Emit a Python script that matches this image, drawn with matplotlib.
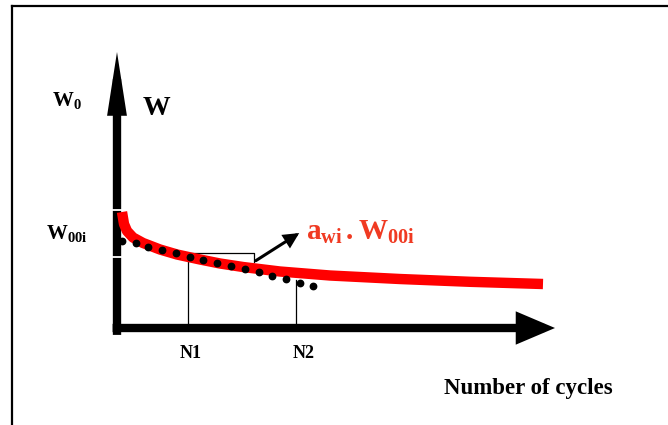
import matplotlib
matplotlib.use('Agg')
import matplotlib.pyplot as plt
from matplotlib.lines import Line2D

plt.rcParams['font.family'] = ['Liberation Serif', 'DejaVu Serif']
plt.rcParams['font.weight'] = 'bold'
plt.rcParams['mathtext.fontset'] = 'custom'
plt.rcParams['mathtext.rm'] = 'Liberation Serif:bold'
plt.rcParams['mathtext.it'] = 'Liberation Serif:bold'
plt.rcParams['mathtext.bf'] = 'Liberation Serif:bold'

# fitted wear curve (arbitrary units)
curve_n = [1.14, 1.60, 2.28, 3.65, 5.94, 9.82, 13.70, 18.95, 23.52, 28.77, 37.21, 48.63, 64.61, 80.59, 97.26]
curve_w = [42.03, 37.68, 35.14, 32.79, 30.80, 28.44, 26.63, 24.82, 23.37, 22.10, 20.47, 19.02, 17.75, 16.74, 15.94]

# measured points
meas_n = [1.1, 4.3, 7.1, 10.3, 13.5, 16.7, 19.6, 22.8, 26.0, 29.2, 32.4, 35.4, 38.6, 41.8, 44.7]
meas_w = [31.5, 30.8, 29.3, 28.3, 27.2, 25.7, 24.6, 23.6, 22.5, 21.4, 20.3, 18.8, 17.8, 16.3, 15.2]

w00i_marks = [42.8, 25.7]
n1, n2 = 16.2, 40.9
n1_top, n2_top = 27.2, 17.4
bracket_right, bracket_low = 31.3, 23.9

fig = plt.figure(figsize=(6.68, 4.25), dpi=100)
ax = fig.add_axes([117 / 668, 97 / 425, 438 / 668, 276 / 425])
ax.set_xlim(0, 100)
ax.set_ylim(0, 100)
ax.axis('off')

# frame of the sketch
fig.add_artist(Line2D([12 / 668, 12 / 668], [0, 419 / 425], color='black', lw=1.6))
fig.add_artist(Line2D([12 / 668, 1], [419 / 425, 419 / 425], color='black', lw=1.6))

# axes with arrows
ax.annotate('', xy=(1.0, 0), xytext=(-0.01, 0), xycoords='axes fraction',
            arrowprops=dict(arrowstyle='-|>,head_length=0.4,head_width=0.17', mutation_scale=44,
                            lw=6, color='black', shrinkA=0, shrinkB=0,
                            joinstyle='miter', capstyle='butt'))
ax.annotate('', xy=(0, 1.0), xytext=(0, -0.025), xycoords='axes fraction',
            arrowprops=dict(arrowstyle='-|>,head_length=0.45,head_width=0.07', mutation_scale=52,
                            lw=6, color='black', shrinkA=0, shrinkB=0,
                            joinstyle='miter', capstyle='butt'))
for m in w00i_marks:
    ax.plot([-1.2, 1.2], [m, m], color='white', lw=1.3, clip_on=False, zorder=5)

# reference lines
ax.plot([n1, n1, bracket_right, bracket_right], [0, n1_top, n1_top, bracket_low],
        color='black', lw=0.9, clip_on=False, zorder=2)
ax.plot([n2, n2], [0, n2_top], color='black', lw=0.9, clip_on=False, zorder=2)
ax.annotate('', xy=(41.6, 34.4), xytext=(bracket_right + 0.4, bracket_low + 0.5),
            arrowprops=dict(arrowstyle='-|>', mutation_scale=20, lw=2.2, color='black',
                            shrinkA=0, shrinkB=0, joinstyle='miter'))

ax.plot(curve_n, curve_w, color='#ff0000', lw=7.5, solid_capstyle='butt',
        solid_joinstyle='round', clip_on=False, zorder=3)
ax.plot(meas_n, meas_w, 'o', color='black', ms=4.6, clip_on=False, zorder=6)

# labels
ax.text(-11.4, 82.5, r'$\mathrm{W_0}$', fontsize=15, ha='center', va='center')
ax.text(9.1, 79.7, 'W', fontsize=20, ha='center', va='center')
ax.text(-11.4, 34.4, r'$\mathrm{W_{00i}}$', fontsize=15, ha='center', va='center')
ax.text(16.7, -9.2, 'N1', fontsize=13, ha='center', va='center')
ax.text(42.5, -9.2, 'N2', fontsize=13, ha='center', va='center')
ax.text(94.0, -22.0, 'Number of cycles', fontsize=16.5, ha='center', va='center')
ax.text(43.2, 34.6, r'$\mathrm{a_{wi}\,.W_{00i}}$', fontsize=21, color='#f03a22',
        ha='left', va='center')

fig.savefig('out.png', dpi=100)
